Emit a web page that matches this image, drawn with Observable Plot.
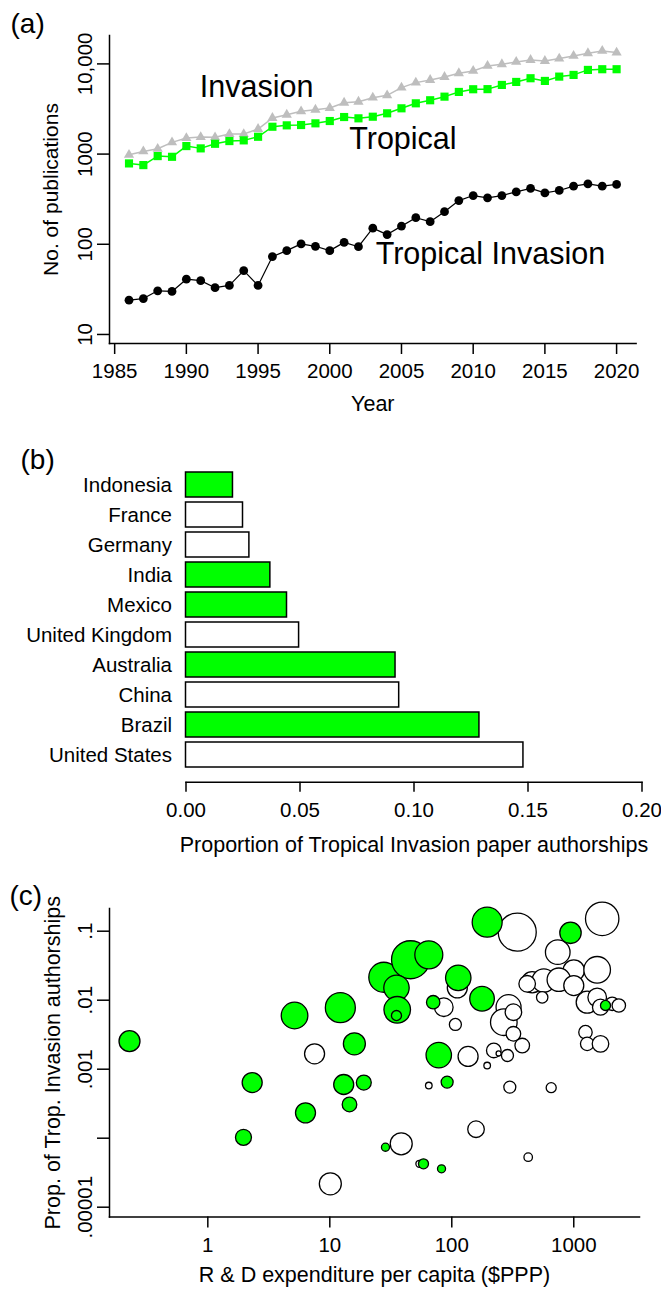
<!DOCTYPE html>
<html>
<head>
<meta charset="utf-8">
<script src="https://cdn.jsdelivr.net/npm/d3@7"></script>
<script src="https://cdn.jsdelivr.net/npm/@observablehq/plot@0.6"></script>
<style>
  html, body { margin: 0; padding: 0; background: white; }
  #chart { position: relative; width: 661px; height: 1290px; overflow: hidden; background: white; }
  #chart > svg { position: absolute; left: 0; }
</style>
</head>
<body>
<div id="chart"></div>
<script>
const FONT = '"Liberation Sans", Arial, Helvetica, sans-serif';

// ---------- Panel (a): publications per year ----------
const years = [1986, 1987, 1988, 1989, 1990, 1991, 1992, 1993, 1994, 1995, 1996, 1997, 1998, 1999, 2000,
  2001, 2002, 2003, 2004, 2005, 2006, 2007, 2008, 2009, 2010, 2011, 2012, 2013, 2014, 2015, 2016, 2017, 2018, 2019, 2020];
const invasionPubs = [982, 1071, 1145, 1349, 1506, 1545, 1534, 1668, 1668, 1896, 2512, 2733, 2981, 3107, 3245,
  3715, 3811, 4224, 4487, 5456, 6200, 6640, 7170, 7880, 8360, 9500, 9930, 10520, 11070, 10790, 11450, 12270, 13140, 13940, 13360];
const tropicalPubs = [788, 755, 950, 933, 1227, 1157, 1301, 1394, 1419, 1556, 2010, 2083, 2100, 2193, 2326,
  2576, 2492, 2596, 2833, 3218, 3656, 3953, 4333, 4887, 5236, 5250, 5843, 6310, 6935, 6475, 7228, 7550, 8577, 8730, 8730];
const tropInvPubs = [24, 25, 30.5, 30, 41, 39.5, 33, 35, 51, 35, 73, 85, 101, 95, 85,
  105, 94, 151, 128, 159, 197, 178, 230, 305, 347, 327, 347, 381, 416, 371, 395, 441, 468, 441, 461];
const yearTicks = [1985, 1990, 1995, 2000, 2005, 2010, 2015, 2020];
const pubTicks = [10, 100, 1000, 10000];
const pubTickLabels = ["10", "100", "1000", "10,000"];
const seriesLabels = ["Invasion", "Tropical", "Tropical Invasion"];
const seriesLabelYear = [1994.9, 2005.1, 2011.2];
const seriesLabelCount = [4280, 1146, 59.7];

// ---------- Panel (b): authorship share by country ----------
const countries = ["Indonesia", "France", "Germany", "India", "Mexico", "United Kingdom", "Australia", "China", "Brazil", "United States"];
const authorshipShare = [0.0206, 0.0250, 0.0278, 0.0370, 0.0443, 0.0496, 0.0919, 0.0935, 0.1287, 0.1480];
const countryTropical = [true, false, false, true, true, false, true, false, true, false];
const shareTicks = [0, 0.05, 0.1, 0.15, 0.2];

// ---------- Panel (c): R&D expenditure vs proportion ----------
const rdExpenditure = [1710, 344, 739, 1000, 1555, 111, 86, 107, 292, 267, 320, 320, 378, 221, 286, 242, 456, 568, 754, 415,
  551, 1288, 1556, 1656, 2065, 2340, 1247, 1288, 1656, 7.5, 136, 195, 64.8, 299, 653, 158, 38.5, 423, 10.1, 54.3, 1000,
  0.228, 5.14, 12.2, 2.31, 15.9, 6.32, 13.0, 19.0, 14.5, 1.96, 27.7, 45.9, 64.8, 35.2, 35.7, 35.2, 70.4, 113, 177, 78.2,
  91.6, 195, 940, 1820, 28.6, 58.6, 82.4];
const tropInvProp = [0.151, 0.0968, 0.0497, 0.0269, 0.0276, 0.0151, 0.00792, 0.00445, 0.00792, 0.0048, 0.0067, 0.00326, 0.0022,
  0.00187, 0.00158, 0.00169, 0.0182, 0.0193, 0.0198, 0.0173, 0.011, 0.00935, 0.011, 0.00792, 0.00887, 0.00838, 0.00344,
  0.00233, 0.00233, 0.00167, 0.00153, 0.00113, 0.00058, 0.00055, 0.00054, 0.000135, 0.000083, 0.000053, 0.0000218, 0.0000425, 0.0163,
  0.00255, 0.0060, 0.0078, 0.00064, 0.00233, 0.000233, 0.00060, 0.00064, 0.000308, 0.000103, 0.0215, 0.0386, 0.0455, 0.0151,
  0.00726, 0.0060, 0.00935, 0.0211, 0.0105, 0.0016, 0.00065, 0.135, 0.0948, 0.00838, 0.000074, 0.0000425, 0.000036];
const authorships = [309, 400, 168, 127, 196, 111, 96, 40, 173, 196, 76, 59, 59, 59, 40, 7, 127, 152, 152, 76, 36, 134, 96, 71,
  50, 50, 50, 50, 76, 111, 111, 12, 12, 40, 28, 76, 134, 20, 134, 14, 111,
  122, 196, 249, 111, 134, 111, 111, 62, 59, 71, 249, 400, 217, 179, 196, 28, 50, 179, 168, 179, 40, 249, 127, 28, 18, 28, 18];
const isTropical = [
  false, false, false, false, false, false, false, false, false, false, false, false, false, false, false, false, false, false, false, false, false,
  false, false, false, false, false, false, false, false, false, false, false, false, false, false, false, false, false, false, false, false,
  true, true, true, true, true, true, true, true, true, true, true, true, true, true, true, true, true, true, true, true,
  true, true, true, true, true, true, true];
const rdTicks = [1, 10, 100, 1000];
const propTicks = [0.1, 0.01, 0.001, 0.0001, 0.00001];
const propTickLabels = [".1", ".01", ".001", "", ".00001"];

// ---------- tables ----------
const tableA = years.map((year, i) => ({year, invasion: invasionPubs[i], tropical: tropicalPubs[i], tropInv: tropInvPubs[i]}));
const labelsA = seriesLabels.map((label, i) => ({label, year: seriesLabelYear[i], count: seriesLabelCount[i]}));
const tableB = countries.map((country, i) => ({country, share: authorshipShare[i], group: countryTropical[i] ? "tropical" : "other"}));
const tableC = rdExpenditure.map((rd, i) => ({rd, prop: tropInvProp[i], n: authorships[i], group: isTropical[i] ? "tropical" : "other"}));

const GREEN = "#00ff00";
const GRAY = "#bebebe";
const baseStyle = {fontFamily: FONT, fontSize: "20.5px", color: "black", background: "transparent", overflow: "visible"};

// ---------- Panel (a) ----------
const chartA = Plot.plot({
  width: 661, height: 420,
  marginLeft: 109, marginRight: 25.4, marginTop: 35, marginBottom: 77,
  style: baseStyle,
  x: {domain: [1984.64, 2021.36]},
  y: {type: "log", domain: [7.94, 20650]},
  marks: [
    Plot.frame({anchor: "left", stroke: "black", strokeWidth: 1.5}),
    Plot.frame({anchor: "bottom", stroke: "black", strokeWidth: 1.5}),
    Plot.axisX({ticks: yearTicks, tickSize: 11, tickPadding: 9, tickFormat: d => String(d), label: null, strokeWidth: 1.5}),
    Plot.axisY({ticks: pubTicks, tickSize: 12, tickPadding: 6, tickRotate: -90,
      tickFormat: d => pubTickLabels[pubTicks.indexOf(d)], label: null, strokeWidth: 1.5}),
    Plot.text(["No. of publications"], {text: d => d, frameAnchor: "left", dx: -51.5, rotate: -90, textAnchor: "middle", lineAnchor: "bottom", fontSize: 21}),
    Plot.text(["Year"], {text: d => d, frameAnchor: "bottom", dy: 67.5, textAnchor: "middle", lineAnchor: "bottom", fontSize: 21.5}),
    Plot.text(["(a)"], {text: d => d, frameAnchor: "top-left", dx: -99, dy: -3, textAnchor: "start", lineAnchor: "bottom", fontSize: 28}),
    Plot.line(tableA, {x: "year", y: "invasion", stroke: GRAY, strokeWidth: 1.5}),
    Plot.dot(tableA, {x: "year", y: "invasion", symbol: "triangle", r: 3.8, fill: GRAY}),
    Plot.line(tableA, {x: "year", y: "tropical", stroke: GREEN, strokeWidth: 1.5}),
    Plot.dot(tableA, {x: "year", y: "tropical", symbol: "square", r: 4.6, fill: GREEN}),
    Plot.line(tableA, {x: "year", y: "tropInv", stroke: "black", strokeWidth: 1.2}),
    Plot.dot(tableA, {x: "year", y: "tropInv", r: 4.4, fill: "black"}),
    Plot.text(labelsA, {x: "year", y: "count", text: "label", fontSize: 30.5, lineAnchor: "bottom", textAnchor: "middle"})
  ]
});
chartA.style.top = "0px";

// ---------- Panel (b) ----------
const chartB = Plot.plot({
  width: 661, height: 440,
  marginLeft: 185.5, marginRight: 19.5, marginTop: 44.95, marginBottom: 78.3,
  style: baseStyle,
  x: {domain: [0, 0.2]},
  y: {domain: countries, range: [44.95, 353.35], padding: 0.1667},
  color: {domain: ["tropical", "other"], range: [GREEN, "#ffffff"]},
  marks: [
    Plot.barX(tableB, {x: "share", y: "country", fill: "group", stroke: "black", strokeWidth: 1.5}),
    Plot.frame({anchor: "bottom", stroke: "black", strokeWidth: 1.5}),
    Plot.axisX({ticks: shareTicks, tickSize: 10, tickPadding: 10, tickFormat: d3.format(".2f"), label: null, strokeWidth: 1.5}),
    Plot.axisY({tickSize: 0, tickPadding: 14, label: null}),
    Plot.text(["Proportion of Tropical Invasion paper authorships"], {text: d => d, frameAnchor: "bottom", dy: 70, textAnchor: "middle", lineAnchor: "bottom", fontSize: 21.5}),
    Plot.text(["(b)"], {text: d => d, frameAnchor: "top-left", dx: -165.5, dy: 4, textAnchor: "start", lineAnchor: "bottom", fontSize: 28})
  ]
});
chartB.style.top = "420px";

// ---------- Panel (c) ----------
const chartC = Plot.plot({
  width: 661, height: 430,
  marginLeft: 109, marginRight: 22, marginTop: 48, marginBottom: 73.5,
  style: baseStyle,
  x: {type: "log", domain: [0.1563, 3458]},
  y: {type: "log", domain: [7.21e-6, 0.2133]},
  r: {type: "sqrt", domain: [0, 400], range: [0, 19]},
  color: {domain: ["tropical", "other"], range: [GREEN, "#ffffff"]},
  marks: [
    Plot.frame({anchor: "left", stroke: "black", strokeWidth: 1.5}),
    Plot.frame({anchor: "bottom", stroke: "black", strokeWidth: 1.5}),
    Plot.axisX({ticks: rdTicks, tickSize: 11, tickPadding: 9, tickFormat: d => String(d), label: null, strokeWidth: 1.5}),
    Plot.axisY({ticks: propTicks, tickSize: 12, tickPadding: 6, tickRotate: -90,
      tickFormat: d => propTickLabels[propTicks.indexOf(d)], label: null, strokeWidth: 1.5}),
    Plot.text(["Prop. of Trop. Invasion authorships"], {text: d => d, frameAnchor: "left", dx: -50, rotate: -90, textAnchor: "middle", lineAnchor: "bottom", fontSize: 21.5}),
    Plot.text(["R & D expenditure per capita ($PPP)"], {text: d => d, frameAnchor: "bottom", dy: 65, textAnchor: "middle", lineAnchor: "bottom", fontSize: 21.5}),
    Plot.text(["(c)"], {text: d => d, frameAnchor: "top-left", dx: -100, dy: -4, textAnchor: "start", lineAnchor: "bottom", fontSize: 28}),
    Plot.dot(tableC, {x: "rd", y: "prop", r: "n", fill: "group", stroke: "black", strokeWidth: 1.3, sort: null})
  ]
});
chartC.style.top = "860px";

const root = document.getElementById("chart");
root.append(chartA, chartB, chartC);
</script>
</body>
</html>
